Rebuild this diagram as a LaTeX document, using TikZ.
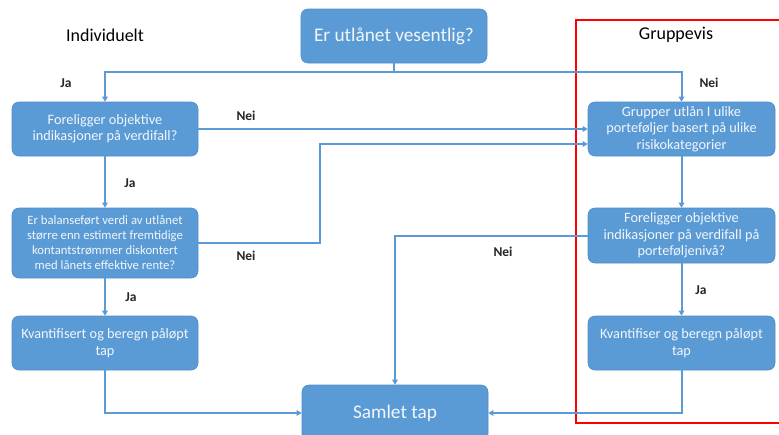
\documentclass[tikz,border=0pt]{standalone}
\usepackage{fontspec}
\setmainfont{Carlito}
\usetikzlibrary{arrows.meta,calc}
\definecolor{boxblue}{HTML}{5B9BD5}
\definecolor{boxedge}{HTML}{4F8CC9}
\definecolor{linkblue}{HTML}{5B9BD5}
\definecolor{boxtext}{HTML}{F2F6FB}
\definecolor{labtext}{HTML}{262626}
\tikzset{
  box/.style={rectangle, rounded corners=7pt, fill=boxblue, draw=boxedge, line width=0.6pt,
    text=boxtext, align=center, inner sep=1pt, minimum width=186pt},
  txtA/.style={font=\fontsize{14.3}{16.5}\selectfont},
  txtB/.style={font=\fontsize{12.7}{15}\selectfont},
  txtBig/.style={font=\fontsize{19.3}{22}\selectfont},
  lab/.style={text=labtext, font=\fontsize{13.5}{15}\selectfont\bfseries},
  head/.style={text=black, font=\fontsize{18}{20}\selectfont},
  arr/.style={draw=linkblue, line width=2pt, -{Triangle[length=5pt,width=5.5pt]}},
}
\begin{document}
\begin{tikzpicture}[x=1pt,y=-1pt]
\useasboundingbox (0,0) rectangle (779,434);
\fill[white] (0,0) rectangle (779,434);
% nodes
\node[box, txtBig, minimum height=54pt] (top) at (394,36) {Er utlånet vesentlig?};
\node[box, txtA, minimum height=54pt] (L1) at (105,129) {Foreligger objektive\\indikasjoner på verdifall?};
\node[box, txtB, minimum height=70pt] (L2) at (105,243) {Er balanseført verdi av utlånet\\større enn estimert fremtidige\\kontantstrømmer diskontert\\med lånets effektive rente?};
\node[box, txtA, minimum height=54pt] (L3) at (105,343) {Kvantifisert og beregn påløpt\\tap};
\node[box, txtA, minimum height=54pt, minimum width=187pt] (R1) at (681.5,129) {Grupper utlån I ulike\\porteføljer basert på ulike\\risikokategorier};
\node[box, txtA, minimum height=55pt, minimum width=187pt] (R2) at (681.5,235.5) {Foreligger objektive\\indikasjoner på verdifall på\\porteføljenivå?};
\node[box, txtA, minimum height=54pt, minimum width=187pt] (R3) at (681.5,343) {Kvantifiser og beregn påløpt\\tap};
\node[box, txtBig, minimum height=56pt] (S) at (395,413) {Samlet tap};
% headings
\node[head] (hI) at (105,35) {Individuelt};
\node[head] (hG) at (676,35) {Gruppevis};
% red frame
\draw[red, line width=2pt] (576,20) rectangle (790,423);
% connectors
\coordinate (split) at (394,72);
\draw[arr] (top.south) -- (split) -| (L1.north);
\draw[arr] (top.south) -- (split) -| (R1.north);
\draw[arr] (L1.east) -- (R1.west);
\coordinate (k1) at (320,144);
\draw[arr] (L2.east) -| (k1) -- (R1.west |- k1);
\draw[arr] (L1.south) -- (L2.north);
\draw[arr] (L2.south) -- (L3.north);
\draw[arr] (L3.south) |- (S.west);
\draw[arr] (R1.south) -- (R2.north);
\draw[arr] (R2.south) -- (R3.north);
\draw[arr] (R2.west) -| (S.north);
\draw[arr] (R3.south) |- (S.east);
% labels
\node[lab] (j1) at (66,83) {Ja};
\node[lab] (n1) at (246,116) {Nei};
\node[lab] (j2) at (130,183) {Ja};
\node[lab] (n2) at (246,256) {Nei};
\node[lab] (j3) at (131,297) {Ja};
\node[lab] (n3) at (503,252) {Nei};
\node[lab] (n4) at (709,83) {Nei};
\node[lab] (j4) at (701,290) {Ja};
\end{tikzpicture}
\end{document}
